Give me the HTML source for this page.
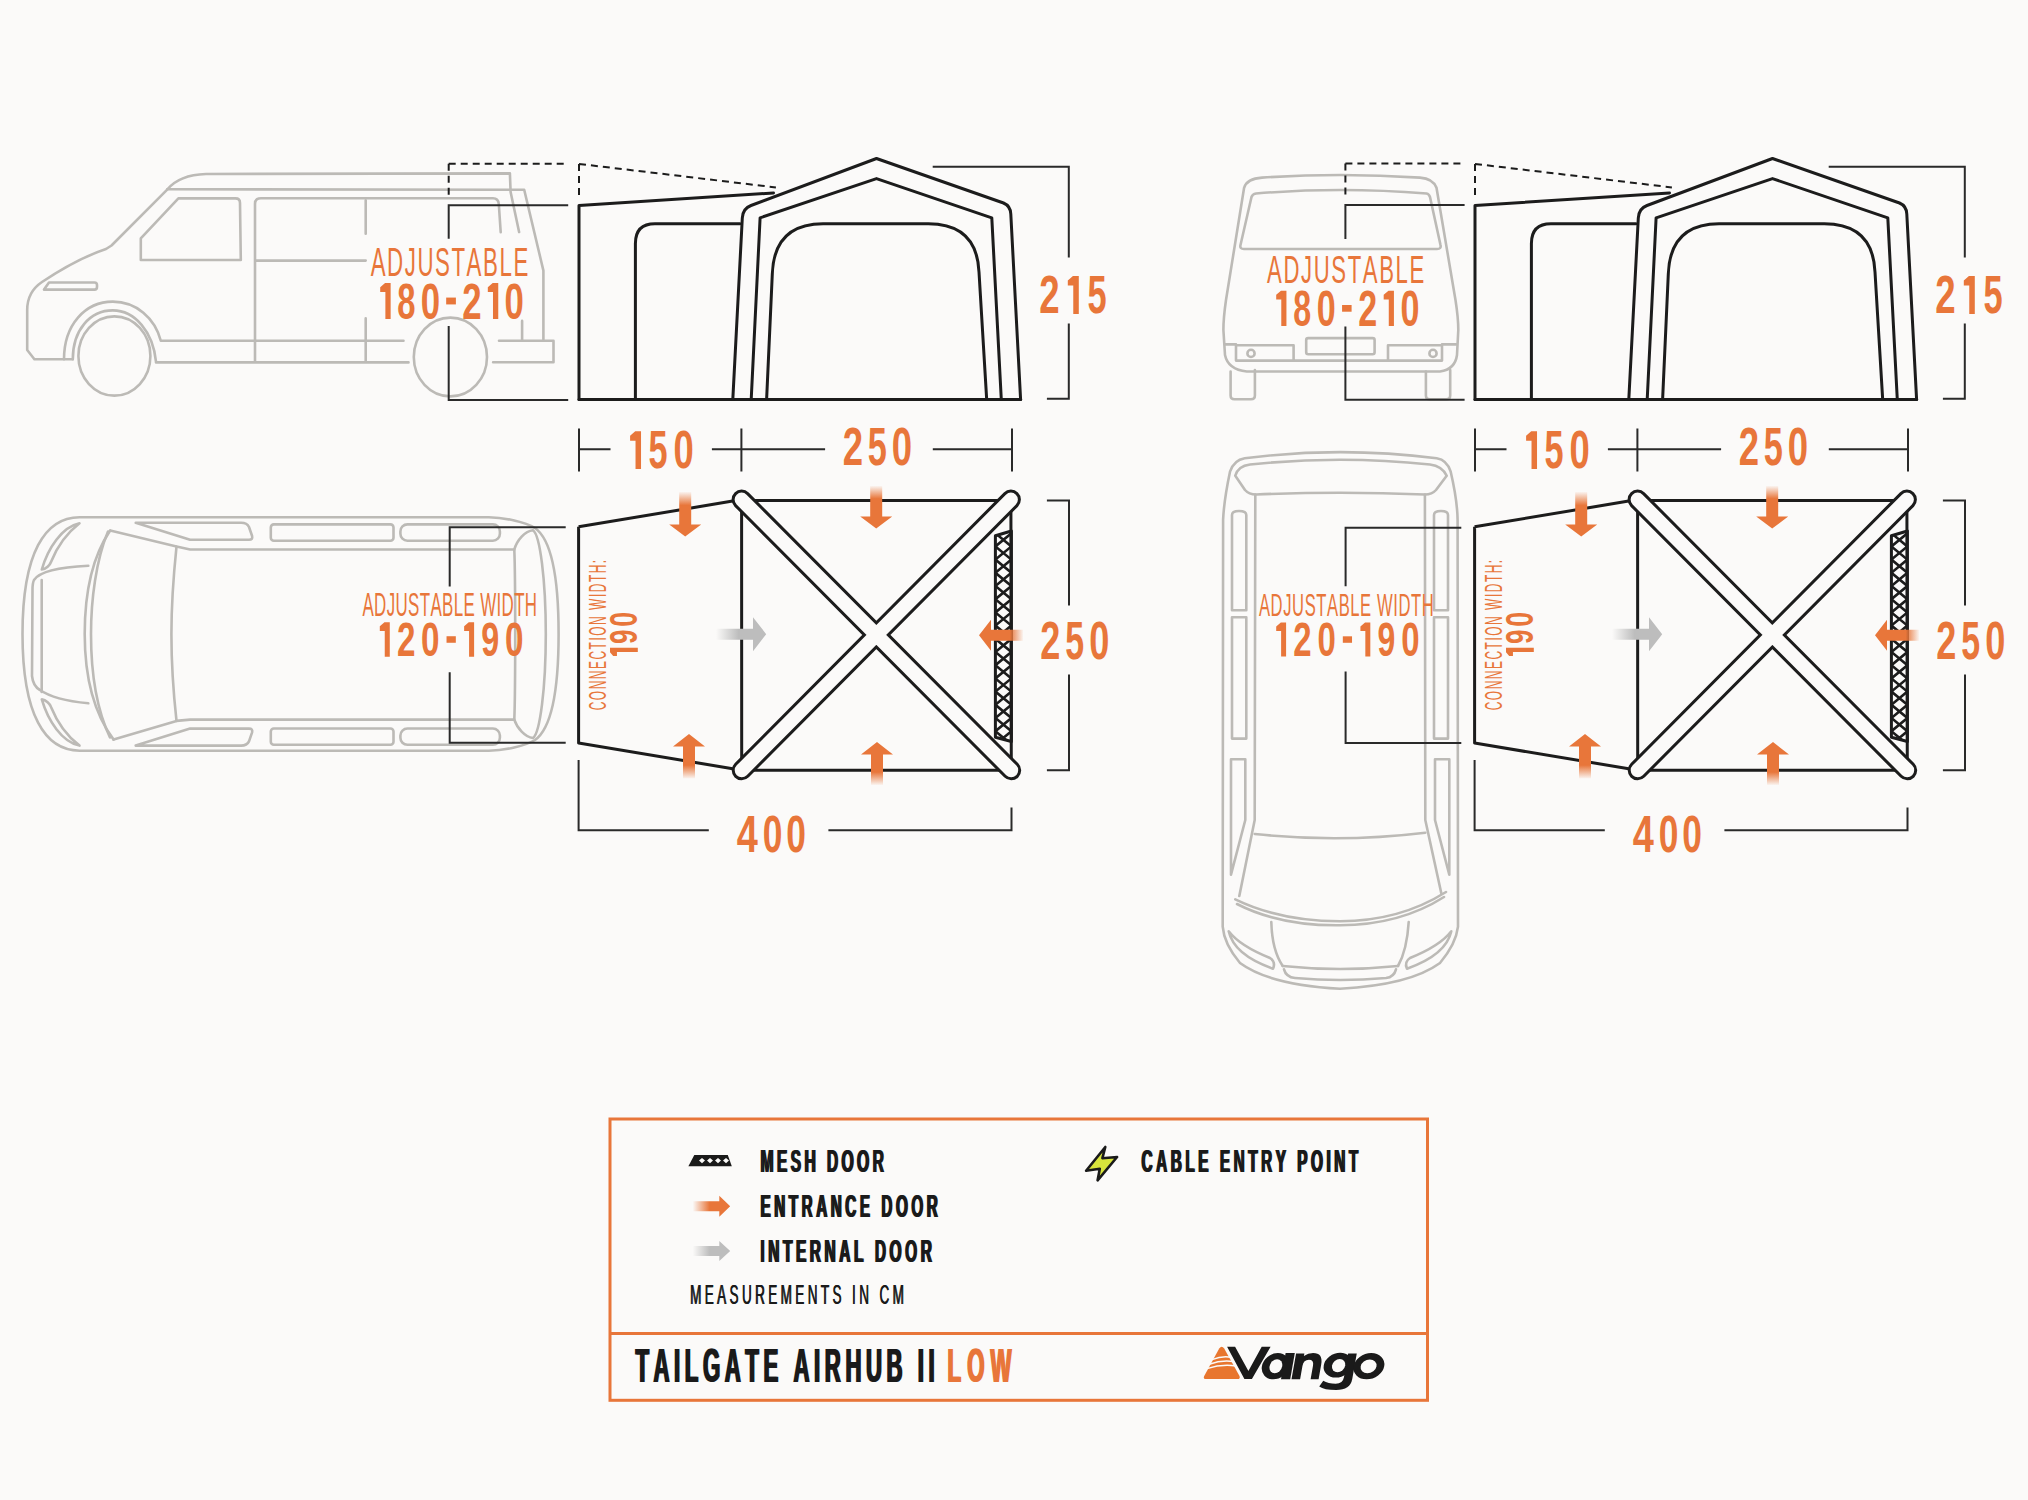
<!DOCTYPE html>
<html><head><meta charset="utf-8"><title>Tailgate AirHub II Low</title>
<style>html,body{margin:0;padding:0;background:#fbfaf9;overflow:hidden}svg{display:block}text{font-kerning:none;white-space:pre}</style>
</head><body>
<svg width="2028" height="1500" viewBox="0 0 2028 1500">
<defs>
<linearGradient id="gOd" x1="0" y1="0" x2="0" y2="1"><stop offset="0" stop-color="#e8763a" stop-opacity="0.05"/><stop offset="0.3" stop-color="#e8763a"/><stop offset="1" stop-color="#e8763a"/></linearGradient>
<linearGradient id="gOu" x1="0" y1="1" x2="0" y2="0"><stop offset="0" stop-color="#e8763a" stop-opacity="0.05"/><stop offset="0.3" stop-color="#e8763a"/><stop offset="1" stop-color="#e8763a"/></linearGradient>
<linearGradient id="gOl" x1="1" y1="0" x2="0" y2="0"><stop offset="0" stop-color="#e8763a" stop-opacity="0.05"/><stop offset="0.3" stop-color="#e8763a"/><stop offset="1" stop-color="#e8763a"/></linearGradient>
<linearGradient id="gOr" x1="0" y1="0" x2="1" y2="0"><stop offset="0" stop-color="#e8763a" stop-opacity="0"/><stop offset="0.45" stop-color="#e8763a"/><stop offset="1" stop-color="#e8763a"/></linearGradient>
<linearGradient id="gGr" x1="0" y1="0" x2="1" y2="0"><stop offset="0" stop-color="#bdbdbd" stop-opacity="0"/><stop offset="0.45" stop-color="#bdbdbd"/><stop offset="1" stop-color="#bdbdbd"/></linearGradient>
<g id="tentSide" fill="none" stroke="#1c1c1c" stroke-width="3" stroke-linejoin="round" stroke-linecap="round">
<path d="M579,399.6 L579,205.5 L773.5,192.9"/>
<path d="M579,399.6 L1020.6,399.6"/>
<path d="M732.8,399.6 L742.3,218 Q742.8,208.5 751,205.5 L876.5,158.5 L1003.5,203 Q1010.5,206 1010.8,214 L1020.6,399.6"/>
<path d="M751.2,399.6 L760.1,217.8 L876.5,178.6 L991.8,217.8 L1001.3,399.6"/>
<path d="M766.6,399.6 L772.3,274 Q774,224 823,223.8 L928.3,223.8 Q977,224 979,272 L986.7,399.6"/>
<path d="M635.4,399.6 L635.4,243.5 Q635.4,223.8 655,223.8 L740,223.8"/>
</g>
<g id="tentSideDim">
<path d="M579,163.9 L775.9,187.4 M579,163.9 L579,198.9" fill="none" stroke="#1c1c1c" stroke-width="2" stroke-dasharray="7,5"/>
<path d="M932.7,166.8 L1068.8,166.8 L1068.8,257.4 M1068.8,323.6 L1068.8,398.8 L1046.9,398.8" fill="none" stroke="#2a2a2a" stroke-width="2"/>
<path d="M579,428.6 L579,471.4 M741.4,428.6 L741.4,471.4 M1012,428.6 L1012,471.4 M579,449.3 L610.5,449.3 M711.9,449.3 L825.1,449.3 M932.8,449.3 L1012,449.3" fill="none" stroke="#2a2a2a" stroke-width="2"/>
</g>
<clipPath id="meshClip"><path d="M995.4,535.8 L1011.4,531.0 L1011.4,741.5 L995.4,737.2 Z"/></clipPath><g id="tentTop">
<path d="M578.6,526.8 L741.6,499.6 M578.6,526.8 L578.6,743.1 L741.7,770.2" fill="none" stroke="#1c1c1c" stroke-width="3" stroke-linejoin="round"/>
<path d="M741.6,500.4 L1010.9,500.4 L1011.3,770.2 L741.7,770.2 Z" fill="none" stroke="#1c1c1c" stroke-width="3" stroke-linejoin="round"/>
<g clip-path="url(#meshClip)"><path d="M995.4,520.0 L1011.4,533.2 M1011.4,520.0 L995.4,533.2 M995.4,533.2 L1011.4,546.4 M1011.4,533.2 L995.4,546.4 M995.4,546.4 L1011.4,559.6 M1011.4,546.4 L995.4,559.6 M995.4,559.6 L1011.4,572.8 M1011.4,559.6 L995.4,572.8 M995.4,572.8 L1011.4,586.0 M1011.4,572.8 L995.4,586.0 M995.4,586.0 L1011.4,599.2 M1011.4,586.0 L995.4,599.2 M995.4,599.2 L1011.4,612.4 M1011.4,599.2 L995.4,612.4 M995.4,612.4 L1011.4,625.6 M1011.4,612.4 L995.4,625.6 M995.4,625.6 L1011.4,638.8 M1011.4,625.6 L995.4,638.8 M995.4,638.8 L1011.4,652.0 M1011.4,638.8 L995.4,652.0 M995.4,652.0 L1011.4,665.2 M1011.4,652.0 L995.4,665.2 M995.4,665.2 L1011.4,678.4 M1011.4,665.2 L995.4,678.4 M995.4,678.4 L1011.4,691.6 M1011.4,678.4 L995.4,691.6 M995.4,691.6 L1011.4,704.8 M1011.4,691.6 L995.4,704.8 M995.4,704.8 L1011.4,718.0 M1011.4,704.8 L995.4,718.0 M995.4,718.0 L1011.4,731.2 M1011.4,718.0 L995.4,731.2 M995.4,731.2 L1011.4,744.4 M1011.4,731.2 L995.4,744.4 M995.4,744.4 L1011.4,757.6 M1011.4,744.4 L995.4,757.6 M995.4,757.6 L1011.4,770.8 M1011.4,757.6 L995.4,770.8" fill="none" stroke="#1c1c1c" stroke-width="2.6"/></g>
<path d="M995.4,535.8 L1011.4,531.0 L1011.4,741.5 L995.4,737.2 Z" fill="none" stroke="#1c1c1c" stroke-width="3" stroke-linejoin="round"/>
<path d="M741.6,499.6 L1011.2,770.3 M1010.9,499.6 L741.7,770.3" fill="none" stroke="#1c1c1c" stroke-width="20" stroke-linecap="round"/>
<path d="M741.6,499.6 L1011.2,770.3 M1010.9,499.6 L741.7,770.3" fill="none" stroke="#fbfaf9" stroke-width="14" stroke-linecap="round"/>
<path d="M679.2,492 L679.2,524.4 L669.2,524.4 L685.2,536.4 L701.2,524.4 L691.2,524.4 L691.2,492 Z" fill="url(#gOd)"/>
<path d="M870.2,486 L870.2,516.5 L860.2,516.5 L876.2,528.5 L892.2,516.5 L882.2,516.5 L882.2,486 Z" fill="url(#gOd)"/>
<path d="M683.0,778.5 L683.0,746.5 L673.0,746.5 L689.0,734.0 L705.0,746.5 L695.0,746.5 L695.0,778.5 Z" fill="url(#gOu)"/>
<path d="M871.0,785 L871.0,754.5 L861.0,754.5 L877.0,742.0 L893.0,754.5 L883.0,754.5 L883.0,785 Z" fill="url(#gOu)"/>
<path d="M1023,629.7 L991,629.7 L991,619.7 L979,635.2 L991,650.7 L991,640.7 L1023,640.7 Z" fill="url(#gOl)"/>
<path d="M716,628.7 L753,628.7 L753,617.2 L766.2,634.2 L753,651.2 L753,639.7 L716,639.7 Z" fill="url(#gGr)"/>
</g>
<g id="tentTopDim" fill="none" stroke="#2a2a2a" stroke-width="2">
<path d="M1046.9,500.4 L1069,500.4 L1069,605.4 M1069,674.4 L1069,770.2 L1046.9,770.2"/>
<path d="M578.6,760 L578.6,830.3 L708.8,830.3 M828.4,830.3 L1011.5,830.3 L1011.5,807.5"/>
</g>
</defs>
<rect x="0" y="0" width="2028" height="1500" fill="#fbfaf9"/>
<g fill="none" stroke="#bcbab6" stroke-width="2.6" stroke-linejoin="round" stroke-linecap="round">
<path d="M72.8,359.2 L64,359.2 C64,325 85,301.6 112.8,301.6 C136,301.6 155,318 160.8,340.8 L403.5,340.8"/>
<path d="M72.8,359.2 C72.8,330 90,310.4 112.8,310.4 C135,310.4 153,332 156,361.6 L156,362.4 L408.5,362.4"/>
<path d="M64,359.2 L34.4,359.2 L27.2,350 L27.2,310 C27.2,296 33,288 42,282 C60,270 85,256 106,249 L111.5,245.5 L167.2,189.6 C175,180 188,174.5 206,174 L509.9,173.4 L510.6,192 L519.1,232.1"/>
<path d="M167.2,189.3 L524.2,189.8 L543.4,270.6 L543.4,339.4"/>
<path d="M255,361.6 L255,204 Q255,198.3 261,198.3 L493,198.3 Q498.3,198.3 498.8,204 L500.7,232.1"/>
<path d="M255.9,260.6 L365.7,260.6 M365.7,200.2 L365.7,233.8 M365.7,318.4 L365.7,361.2 M522.1,320.9 L522.1,340.6"/>
<path d="M499,340.7 L553.5,340.7 L553.5,362.3 L493.1,362.3"/>
<path d="M140.8,238.4 L178.4,198.4 L235.5,198.4 Q240,198.4 240,203 L240.8,260 L140.8,260 Z"/>
<path d="M44,289.6 L94.5,289.6 Q97,289.6 97,287 L97,285 Q97,282.5 94.5,282.5 L49,282.5 Z"/>
<ellipse cx="114.4" cy="356" rx="36" ry="39.6"/>
<ellipse cx="450.4" cy="357" rx="36.6" ry="39.4"/>
</g>
<g fill="none" stroke="#bcbab6" stroke-width="2.6" stroke-linejoin="round" stroke-linecap="round">
<path d="M79.6,517.2 L488.8,517.2 C505,517.5 525,522 535,528 C552,540 558.6,580 558.6,634 C558.6,690 552,728 535,740 C525,746 505,750.5 488.8,750.7 L79.6,750.7 C45,750.7 22.5,715 22.5,634 C22.5,553 45,517.2 79.6,517.2 Z"/>
<path d="M88.3,565.8 C62,567 40,571 34,580 Q32.5,583 32.5,590 L32,676 Q33,686 40,690 C50,697 65,701 88.3,703.3"/>
<path d="M41.7,580 L41.7,692"/>
<path d="M79.5,523.3 C62,527 48,548 41.8,569.5 C46,569 50,565 51,562 C57,547 67,533 79.5,523.3 Z"/>
<path d="M79.5,745.6 C62,741.9 48,720.9 41.8,699.4 C46,699.9 50,703.9 51,706.9 C57,721.9 67,735.9 79.5,745.6 Z"/>
<path d="M110.2,530.5 C90,560 84.7,600 84.7,634 C84.7,668 90,708 113.6,739.6"/>
<path d="M108,531.5 C96,560 91,600 91,634 C91,668 96,708 110,737.5"/>
<path d="M110.2,530.5 L176.5,546.6 L190.1,549.5 L514.3,549.5"/>
<path d="M113.6,739.6 L176.5,720.9 L190.1,719.6 L514.3,719.6"/>
<path d="M176.5,546.6 C172,590 171.4,610 171.4,634 C171.4,658 172,680 176.5,720.9"/>
<path d="M135.7,522.8 L241.1,522.8 Q247,522.8 249,527 L252.1,536 Q253,539.8 249,539.8 L190.1,539.8 Z"/>
<path d="M135.7,745.6 L241.1,745.6 Q247,745.6 249,741.4 L252.1,732.4 Q253,728.6 249,728.6 L190.1,728.6 Z"/>
<rect x="270.8" y="524.4" width="122.7" height="16.3" rx="3"/>
<rect x="400.4" y="524.4" width="99.5" height="16.3" rx="7"/>
<rect x="270.8" y="728.5" width="122.7" height="16.3" rx="3"/>
<rect x="400.4" y="728.5" width="99.5" height="16.3" rx="7"/>
<path d="M514.3,549.5 C517,540 525,531 533,530.2 C540,535 545.8,580 545.8,634 C545.8,688 540,733 533,738 C525,737 517,728 514.3,719.6 C515.5,690 515.5,578 514.3,549.5 Z"/>
</g>
<g fill="none" stroke="#bcbab6" stroke-width="2.6" stroke-linejoin="round" stroke-linecap="round">
<path d="M1244.1,187.8 Q1247,178.5 1262,177.6 Q1340,172.5 1420,177.6 Q1433,178.5 1436.5,187.8 L1455.5,300 Q1458.3,318 1458.3,330 L1457,355 Q1455,369.5 1440,371.5 L1246.8,371.5 Q1228,369.5 1225,355 L1223.4,330 Q1223.4,318 1226,300 Z"/>
<path d="M1256,193.5 Q1340,186.5 1426.6,193.5 Q1429,194 1430,197 L1440.5,245 Q1441.5,249 1437,249 L1244,249 Q1239.5,249 1240.5,245 L1251.5,197 Q1252.5,194 1256,193.5 Z"/>
<path d="M1225,344.4 L1236,344.4 L1236,360.6 M1236,345.3 L1293.6,345.3 L1293.6,360.6 M1388,360.6 L1388,345.3 L1442,345.3 L1442,360.6 M1442,344.4 L1456,344.4 M1236,360.6 L1442,360.6"/>
<circle cx="1251" cy="353.4" r="3.6"/>
<circle cx="1433" cy="353.4" r="3.6"/>
<rect x="1306.2" y="338.1" width="68.4" height="16.2" rx="2"/>
<path d="M1230.6,371.5 L1230.6,395.5 Q1230.6,399.3 1234.5,399.3 L1251,399.3 Q1254.9,399.3 1254.9,395.5 L1254.9,370"/>
<path d="M1425.9,371.5 L1425.9,395.5 Q1425.9,399.3 1429.8,399.3 L1446.3,399.3 Q1450.2,399.3 1450.2,395.5 L1450.2,370"/>
</g>
<g fill="none" stroke="#bcbab6" stroke-width="2.6" stroke-linejoin="round" stroke-linecap="round">
<path d="M1230,471.7 Q1234,460 1244.7,458.3 Q1340,446 1436.7,458.3 Q1447,460 1450.7,471.7 Q1457.3,500 1457.6,519.7 L1458,926.7 Q1456,944 1440,963 Q1410,985 1340,988.7 Q1270,985 1240,963 Q1224,944 1222.7,926.7 L1223.1,519.7 Q1224,500 1230,471.7 Z"/>
<path d="M1235.3,475.7 Q1238,466 1250,464.5 Q1340,455 1430,464.5 Q1442,466 1446.7,475.7 L1436,490 Q1432,494.5 1425,494.5 Q1340,491 1256,494.5 Q1249,494.5 1245,490 Z"/>
<path d="M1255.3,494.5 L1254.7,820 L1239.3,896 M1424.9,494.5 L1425.3,820 L1441.3,893.3"/>
<path d="M1254.7,834 Q1340,843 1425.3,832.7"/>
<path d="M1235.3,899.3 Q1280,921 1340,921.3 Q1400,921 1446,892 M1237,904 Q1280,926 1340,925.3 Q1400,925 1444,897"/>
<path d="M1271.3,922 Q1272,950 1282.7,966 M1408.7,922 Q1407,950 1398,966"/>
<path d="M1282.7,966 Q1340,972 1398,966 M1284,969.3 Q1286,977 1295,978 Q1340,982 1386,978 Q1394,977 1396,969.3"/>
<path d="M1228.7,931.3 Q1234,955 1273,968.7 Q1276,962 1270,958 Q1240,946 1228.7,931.3 Z"/>
<path d="M1451.3,931.3 Q1446,955 1407,968.7 Q1404,962 1410,958 Q1440,946 1451.3,931.3 Z"/>
<path d="M1232,515 Q1232,511 1239,511 Q1246.3,511 1246.3,515 L1246.3,610.3 L1232,610.3 Z"/>
<path d="M1232,617.3 L1246.3,617.3 L1246.3,738.6 L1232,738.6 Z"/>
<path d="M1231,759.2 L1245.3,759.2 L1245.3,820 L1231,874.7 Z"/>
<path d="M1434,515 Q1434,511 1441,511 Q1448,511 1448,515 L1448,610.3 L1434,610.3 Z"/>
<path d="M1434,617.3 L1448,617.3 L1448,738.6 L1434,738.6 Z"/>
<path d="M1435,759.2 L1449.3,759.2 L1449.3,874.7 L1435,820 Z"/>
</g>
<g fill="none" stroke="#2a2a2a" stroke-width="2">
<path d="M568.2,205.3 L448.7,205.3 L448.7,238.8 M448.7,326 L448.7,400 L568.2,400"/>
<path d="M565.7,527.3 L449.7,527.3 L449.7,586.5 M449.7,672.3 L449.7,742.7 L565.7,742.7"/>
<path d="M1464.6,205 L1345.4,205 L1345.4,239.1 M1345.4,326.4 L1345.4,399.8 L1464.6,399.8"/>
<path d="M1461.3,527.7 L1345.6,527.7 L1345.6,586.3 M1345.6,671.4 L1345.6,743.1 L1461.3,743.1"/>
</g>
<g fill="none" stroke="#1c1c1c" stroke-width="2" stroke-dasharray="7,5">
<path d="M448.7,163.7 L568.6,163.7 M448.7,163.7 L448.7,198.6"/>
<path d="M1345.4,163.5 L1464.6,163.5 M1345.4,163.5 L1345.4,198.6"/>
</g>
<g transform="translate(0,0)"><use href="#tentSide"/><use href="#tentSideDim"/><use href="#tentTop"/><use href="#tentTopDim"/></g>
<g transform="translate(896,0)"><use href="#tentSide"/><use href="#tentSideDim"/><use href="#tentTop"/><use href="#tentTopDim"/></g>
<text transform="translate(1039.23,313.48) scale(0.6838,1)" font-family='"Liberation Sans", sans-serif' font-weight="bold" font-size="53.53" fill="#e8763a">2</text><path d="M1078.79,276.10 L1072.96,276.10 L1067.80,280.46 L1067.80,285.58 L1073.26,285.58 L1073.26,314.00 L1078.79,314.00 Z" fill="#e8763a"/><text transform="translate(1087.41,313.48) scale(0.6432,1)" font-family='"Liberation Sans", sans-serif' font-weight="bold" font-size="53.53" fill="#e8763a">5</text>
<path d="M641.03,431.30 L635.23,431.30 L630.10,435.64 L630.10,440.73 L635.53,440.73 L635.53,469.00 L641.03,469.00 Z" fill="#e8763a"/><text transform="translate(648.47,468.48) scale(0.6432,1)" font-family='"Liberation Sans", sans-serif' font-weight="bold" font-size="53.25" fill="#e8763a">5</text><text transform="translate(673.62,468.48) scale(0.6848,1)" font-family='"Liberation Sans", sans-serif' font-weight="bold" font-size="53.25" fill="#e8763a">0</text>
<text transform="translate(842.83,465.18) scale(0.6838,1)" font-family='"Liberation Sans", sans-serif' font-weight="bold" font-size="53.39" fill="#e8763a">2</text><text transform="translate(867.80,465.18) scale(0.6432,1)" font-family='"Liberation Sans", sans-serif' font-weight="bold" font-size="53.39" fill="#e8763a">5</text><text transform="translate(891.67,465.18) scale(0.6848,1)" font-family='"Liberation Sans", sans-serif' font-weight="bold" font-size="53.39" fill="#e8763a">0</text>
<text transform="translate(1040.35,658.98) scale(0.6838,1)" font-family='"Liberation Sans", sans-serif' font-weight="bold" font-size="52.82" fill="#e8763a">2</text><text transform="translate(1065.35,658.98) scale(0.6432,1)" font-family='"Liberation Sans", sans-serif' font-weight="bold" font-size="52.82" fill="#e8763a">5</text><text transform="translate(1089.27,658.98) scale(0.6848,1)" font-family='"Liberation Sans", sans-serif' font-weight="bold" font-size="52.82" fill="#e8763a">0</text>
<text transform="translate(736.73,852.10) scale(0.7336,1)" font-family='"Liberation Sans", sans-serif' font-weight="bold" font-size="51.69" fill="#e8763a">4</text><text transform="translate(762.87,852.10) scale(0.6848,1)" font-family='"Liberation Sans", sans-serif' font-weight="bold" font-size="51.69" fill="#e8763a">0</text><text transform="translate(786.36,852.10) scale(0.6848,1)" font-family='"Liberation Sans", sans-serif' font-weight="bold" font-size="51.69" fill="#e8763a">0</text>
<g transform="rotate(-90)"><text transform="translate(-710.31,606.00) scale(0.5,1)" font-family='"Liberation Sans", sans-serif' font-weight="normal" font-size="23.84" letter-spacing="3.10" fill="#e8763a" >CONNECTION WIDTH:</text><path d="M-647.84,610.00 L-652.20,610.00 L-655.90,613.20 L-655.90,616.95 L-651.90,616.95 L-651.90,637.80 L-647.84,637.80 Z" fill="#e8763a"/><text transform="translate(-643.99,637.42) scale(0.6651,1)" font-family='"Liberation Sans", sans-serif' font-weight="bold" font-size="39.27" fill="#e8763a">9</text><text transform="translate(-626.75,637.42) scale(0.6848,1)" font-family='"Liberation Sans", sans-serif' font-weight="bold" font-size="39.27" fill="#e8763a">0</text></g>
<text transform="translate(1935.23,313.48) scale(0.6838,1)" font-family='"Liberation Sans", sans-serif' font-weight="bold" font-size="53.53" fill="#e8763a">2</text><path d="M1974.79,276.10 L1968.96,276.10 L1963.80,280.46 L1963.80,285.58 L1969.26,285.58 L1969.26,314.00 L1974.79,314.00 Z" fill="#e8763a"/><text transform="translate(1983.41,313.48) scale(0.6432,1)" font-family='"Liberation Sans", sans-serif' font-weight="bold" font-size="53.53" fill="#e8763a">5</text>
<path d="M1537.03,431.30 L1531.23,431.30 L1526.10,435.64 L1526.10,440.73 L1531.53,440.73 L1531.53,469.00 L1537.03,469.00 Z" fill="#e8763a"/><text transform="translate(1544.47,468.48) scale(0.6432,1)" font-family='"Liberation Sans", sans-serif' font-weight="bold" font-size="53.25" fill="#e8763a">5</text><text transform="translate(1569.62,468.48) scale(0.6848,1)" font-family='"Liberation Sans", sans-serif' font-weight="bold" font-size="53.25" fill="#e8763a">0</text>
<text transform="translate(1738.83,465.18) scale(0.6838,1)" font-family='"Liberation Sans", sans-serif' font-weight="bold" font-size="53.39" fill="#e8763a">2</text><text transform="translate(1763.80,465.18) scale(0.6432,1)" font-family='"Liberation Sans", sans-serif' font-weight="bold" font-size="53.39" fill="#e8763a">5</text><text transform="translate(1787.67,465.18) scale(0.6848,1)" font-family='"Liberation Sans", sans-serif' font-weight="bold" font-size="53.39" fill="#e8763a">0</text>
<text transform="translate(1936.35,658.98) scale(0.6838,1)" font-family='"Liberation Sans", sans-serif' font-weight="bold" font-size="52.82" fill="#e8763a">2</text><text transform="translate(1961.35,658.98) scale(0.6432,1)" font-family='"Liberation Sans", sans-serif' font-weight="bold" font-size="52.82" fill="#e8763a">5</text><text transform="translate(1985.27,658.98) scale(0.6848,1)" font-family='"Liberation Sans", sans-serif' font-weight="bold" font-size="52.82" fill="#e8763a">0</text>
<text transform="translate(1632.73,852.10) scale(0.7336,1)" font-family='"Liberation Sans", sans-serif' font-weight="bold" font-size="51.69" fill="#e8763a">4</text><text transform="translate(1658.87,852.10) scale(0.6848,1)" font-family='"Liberation Sans", sans-serif' font-weight="bold" font-size="51.69" fill="#e8763a">0</text><text transform="translate(1682.36,852.10) scale(0.6848,1)" font-family='"Liberation Sans", sans-serif' font-weight="bold" font-size="51.69" fill="#e8763a">0</text>
<g transform="rotate(-90)"><text transform="translate(-710.31,1502.00) scale(0.5,1)" font-family='"Liberation Sans", sans-serif' font-weight="normal" font-size="23.84" letter-spacing="3.10" fill="#e8763a" >CONNECTION WIDTH:</text><path d="M-647.84,1506.00 L-652.20,1506.00 L-655.90,1509.20 L-655.90,1512.95 L-651.90,1512.95 L-651.90,1533.80 L-647.84,1533.80 Z" fill="#e8763a"/><text transform="translate(-643.99,1533.42) scale(0.6651,1)" font-family='"Liberation Sans", sans-serif' font-weight="bold" font-size="39.27" fill="#e8763a">9</text><text transform="translate(-626.75,1533.42) scale(0.6848,1)" font-family='"Liberation Sans", sans-serif' font-weight="bold" font-size="39.27" fill="#e8763a">0</text></g>
<text transform="translate(370.66,275.90) scale(0.557,1)" font-family='"Liberation Sans", sans-serif' font-weight="normal" font-size="39.97" letter-spacing="2.81" fill="#e8763a" >ADJUSTABLE</text>
<path d="M390.64,283.00 L385.08,283.00 L380.20,287.14 L380.20,292.00 L385.38,292.00 L385.38,319.00 L390.64,319.00 Z" fill="#e8763a"/><text transform="translate(397.19,318.50) scale(0.6454,1)" font-family='"Liberation Sans", sans-serif' font-weight="bold" font-size="50.85" fill="#e8763a">8</text><text transform="translate(420.64,318.50) scale(0.6848,1)" font-family='"Liberation Sans", sans-serif' font-weight="bold" font-size="50.85" fill="#e8763a">0</text><rect x="446.17" y="297.58" width="9.72" height="6.84" fill="#e8763a"/><text transform="translate(462.27,318.50) scale(0.6838,1)" font-family='"Liberation Sans", sans-serif' font-weight="bold" font-size="50.85" fill="#e8763a">2</text><path d="M498.25,283.00 L492.69,283.00 L487.81,287.14 L487.81,292.00 L492.99,292.00 L492.99,319.00 L498.25,319.00 Z" fill="#e8763a"/><text transform="translate(504.46,318.50) scale(0.6848,1)" font-family='"Liberation Sans", sans-serif' font-weight="bold" font-size="50.85" fill="#e8763a">0</text>
<text transform="translate(1267.06,283.20) scale(0.557,1)" font-family='"Liberation Sans", sans-serif' font-weight="normal" font-size="39.68" letter-spacing="2.94" fill="#e8763a" >ADJUSTABLE</text>
<path d="M1286.44,290.70 L1280.98,290.70 L1276.20,294.76 L1276.20,299.52 L1281.28,299.52 L1281.28,326.00 L1286.44,326.00 Z" fill="#e8763a"/><text transform="translate(1293.25,325.51) scale(0.6454,1)" font-family='"Liberation Sans", sans-serif' font-weight="bold" font-size="49.86" fill="#e8763a">8</text><text transform="translate(1316.64,325.51) scale(0.6848,1)" font-family='"Liberation Sans", sans-serif' font-weight="bold" font-size="49.86" fill="#e8763a">0</text><rect x="1342.07" y="305.00" width="9.53" height="6.71" fill="#e8763a"/><text transform="translate(1358.26,325.51) scale(0.6838,1)" font-family='"Liberation Sans", sans-serif' font-weight="bold" font-size="49.86" fill="#e8763a">2</text><path d="M1393.93,290.70 L1388.47,290.70 L1383.69,294.76 L1383.69,299.52 L1388.77,299.52 L1388.77,326.00 L1393.93,326.00 Z" fill="#e8763a"/><text transform="translate(1400.41,325.51) scale(0.6848,1)" font-family='"Liberation Sans", sans-serif' font-weight="bold" font-size="49.86" fill="#e8763a">0</text>
<text transform="translate(362.47,615.70) scale(0.517,1)" font-family='"Liberation Sans", sans-serif' font-weight="normal" font-size="32.70" letter-spacing="0.72" fill="#e8763a" >ADJUSTABLE WIDTH</text>
<path d="M389.78,622.30 L384.45,622.30 L379.80,626.26 L379.80,630.90 L384.75,630.90 L384.75,656.70 L389.78,656.70 Z" fill="#e8763a"/><text transform="translate(396.93,656.23) scale(0.6838,1)" font-family='"Liberation Sans", sans-serif' font-weight="bold" font-size="48.59" fill="#e8763a">2</text><text transform="translate(421.08,656.23) scale(0.6848,1)" font-family='"Liberation Sans", sans-serif' font-weight="bold" font-size="48.59" fill="#e8763a">0</text><rect x="446.53" y="636.23" width="9.29" height="6.54" fill="#e8763a"/><path d="M474.10,622.30 L468.78,622.30 L464.13,626.26 L464.13,630.90 L469.08,630.90 L469.08,656.70 L474.10,656.70 Z" fill="#e8763a"/><text transform="translate(481.29,656.23) scale(0.6651,1)" font-family='"Liberation Sans", sans-serif' font-weight="bold" font-size="48.59" fill="#e8763a">9</text><text transform="translate(505.06,656.23) scale(0.6848,1)" font-family='"Liberation Sans", sans-serif' font-weight="bold" font-size="48.59" fill="#e8763a">0</text>
<text transform="translate(1258.97,615.60) scale(0.517,1)" font-family='"Liberation Sans", sans-serif' font-weight="normal" font-size="32.12" letter-spacing="1.13" fill="#e8763a" >ADJUSTABLE WIDTH</text>
<path d="M1286.09,622.50 L1280.81,622.50 L1276.20,626.42 L1276.20,631.02 L1281.11,631.02 L1281.11,656.60 L1286.09,656.60 Z" fill="#e8763a"/><text transform="translate(1293.34,656.13) scale(0.6838,1)" font-family='"Liberation Sans", sans-serif' font-weight="bold" font-size="48.16" fill="#e8763a">2</text><text transform="translate(1317.43,656.13) scale(0.6848,1)" font-family='"Liberation Sans", sans-serif' font-weight="bold" font-size="48.16" fill="#e8763a">0</text><rect x="1342.82" y="636.31" width="9.21" height="6.48" fill="#e8763a"/><path d="M1370.31,622.50 L1365.03,622.50 L1360.42,626.42 L1360.42,631.02 L1365.33,631.02 L1365.33,656.60 L1370.31,656.60 Z" fill="#e8763a"/><text transform="translate(1377.59,656.13) scale(0.6651,1)" font-family='"Liberation Sans", sans-serif' font-weight="bold" font-size="48.16" fill="#e8763a">9</text><text transform="translate(1401.31,656.13) scale(0.6848,1)" font-family='"Liberation Sans", sans-serif' font-weight="bold" font-size="48.16" fill="#e8763a">0</text>
<rect x="610" y="1119" width="817.5" height="281.3" fill="none" stroke="#e8763a" stroke-width="3"/>
<path d="M610,1333.5 L1427.5,1333.5" stroke="#e8763a" stroke-width="3"/>
<path d="M688.4,1166.2 L694.3,1155 L727.8,1155 L731.8,1166.2 Z" fill="#1a1a1a"/>
<path d="M699,1160.6 l3,-2.6 l3,2.6 l-3,2.6 Z M707,1160.6 l3,-2.6 l3,2.6 l-3,2.6 Z M715,1160.6 l3,-2.6 l3,2.6 l-3,2.6 Z M723,1160.6 l3,-2.6 l3,2.6 l-3,2.6 Z" fill="#fbfaf9"/>
<path d="M692.7,1201.3 L719.3,1201.3 L719.3,1195.8 L730.2,1206.3 L719.3,1216.8 L719.3,1211.3 L692.7,1211.3 Z" fill="url(#gOr)"/>
<path d="M692.7,1246 L719.3,1246 L719.3,1241 L730.2,1251 L719.3,1261 L719.3,1256 L692.7,1256 Z" fill="url(#gGr)"/>
<path d="M1105.3,1147 L1102.4,1158.2 L1117.1,1157 L1097.6,1180.3 L1099.8,1168.8 L1086.1,1170.7 Z" fill="#d8e43c" stroke="#1a1a1a" stroke-width="2.6" stroke-linejoin="round"/>
<text transform="translate(759.75,1172.40) scale(0.49,1)" font-family='"Liberation Sans", sans-serif' font-weight="bold" font-size="31.98" letter-spacing="6.85" fill="#1a1a1a" >MESH DOOR</text><text transform="translate(761.15,1172.40) scale(0.49,1)" font-family='"Liberation Sans", sans-serif' font-weight="bold" font-size="31.98" letter-spacing="6.85" fill="#1a1a1a" >MESH DOOR</text>
<text transform="translate(759.78,1216.60) scale(0.49,1)" font-family='"Liberation Sans", sans-serif' font-weight="bold" font-size="31.11" letter-spacing="7.26" fill="#1a1a1a" >ENTRANCE DOOR</text><text transform="translate(761.18,1216.60) scale(0.49,1)" font-family='"Liberation Sans", sans-serif' font-weight="bold" font-size="31.11" letter-spacing="7.26" fill="#1a1a1a" >ENTRANCE DOOR</text>
<text transform="translate(759.67,1261.90) scale(0.49,1)" font-family='"Liberation Sans", sans-serif' font-weight="bold" font-size="31.54" letter-spacing="7.27" fill="#1a1a1a" >INTERNAL DOOR</text><text transform="translate(761.07,1261.90) scale(0.49,1)" font-family='"Liberation Sans", sans-serif' font-weight="bold" font-size="31.54" letter-spacing="7.27" fill="#1a1a1a" >INTERNAL DOOR</text>
<text transform="translate(689.79,1303.60) scale(0.48,1)" font-family='"Liberation Sans", sans-serif' font-weight="normal" font-size="28.20" letter-spacing="7.04" fill="#1a1a1a" >MEASUREMENTS IN CM</text><text transform="translate(690.39,1303.60) scale(0.48,1)" font-family='"Liberation Sans", sans-serif' font-weight="normal" font-size="28.20" letter-spacing="7.04" fill="#1a1a1a" >MEASUREMENTS IN CM</text>
<text transform="translate(1140.87,1171.80) scale(0.49,1)" font-family='"Liberation Sans", sans-serif' font-weight="bold" font-size="31.25" letter-spacing="7.25" fill="#1a1a1a" >CABLE ENTRY POINT</text><text transform="translate(1142.27,1171.80) scale(0.49,1)" font-family='"Liberation Sans", sans-serif' font-weight="bold" font-size="31.25" letter-spacing="7.25" fill="#1a1a1a" >CABLE ENTRY POINT</text>
<text transform="translate(634.65,1381.90) scale(0.47,1)" font-family='"Liberation Sans", sans-serif' font-weight="bold" font-size="47.24" letter-spacing="9.69" fill="#1a1a1a" >TAILGATE AIRHUB II</text><text transform="translate(636.15,1381.90) scale(0.47,1)" font-family='"Liberation Sans", sans-serif' font-weight="bold" font-size="47.24" letter-spacing="9.69" fill="#1a1a1a" >TAILGATE AIRHUB II</text>
<text transform="translate(946.71,1381.90) scale(0.47,1)" font-family='"Liberation Sans", sans-serif' font-weight="bold" font-size="47.24" letter-spacing="13.00" fill="#e8763a" >LOW</text><text transform="translate(948.21,1381.90) scale(0.47,1)" font-family='"Liberation Sans", sans-serif' font-weight="bold" font-size="47.24" letter-spacing="13.00" fill="#e8763a" >LOW</text>
<path d="M1221.7,1346.7 Q1223,1346.7 1224.2,1348.6 L1239.5,1376 Q1240.6,1379.1 1237.5,1379.1 L1206,1379.1 Q1202.8,1379.1 1204.2,1376 L1219.2,1348.6 Q1220.4,1346.7 1221.7,1346.7 Z" fill="#e8762f"/>
<path d="M1212,1359.6 Q1222,1355.5 1231.2,1357.2 M1209.2,1364.2 Q1222,1359.5 1233.6,1361.5 M1206.8,1368.6 Q1222,1363.8 1236,1366" fill="none" stroke="#fbfaf9" stroke-width="1.5"/>
<path d="M1227.1,1346.7 L1235.1,1346.7 L1248.4,1371.1 L1261.7,1346.7 L1270.6,1346.7 L1251.9,1379.1 L1244.4,1379.1 Z" fill="#1a1a1a"/>
<g transform="translate(0,1379.3) skewX(-10) translate(0,-1379.3)">
<ellipse cx="1273.2" cy="1366.2" rx="13.6" ry="13.1" fill="#1a1a1a"/>
<ellipse cx="1273.6" cy="1366.3" rx="6.3" ry="7.0" fill="#fbfaf9"/>
<rect x="1281" y="1353.1" width="9.2" height="26.2" fill="#1a1a1a"/>
<path d="M1291.5,1379.3 L1291.5,1353.4 L1299.8,1353.4 L1299.8,1356 Q1303.5,1353.1 1308.5,1353.1 Q1318.6,1353.1 1318.6,1364.5 L1318.6,1379.3 L1310.6,1379.3 L1310.6,1365.5 Q1310.6,1359.8 1305.5,1359.8 Q1300.1,1359.8 1300.1,1366 L1300.1,1379.3 Z" fill="#1a1a1a"/>
<ellipse cx="1335.5" cy="1365.2" rx="14.2" ry="12.4" fill="#1a1a1a"/>
<ellipse cx="1336.2" cy="1365.6" rx="6.6" ry="6.6" fill="#fbfaf9"/>
<path d="M1343.6,1353.4 L1352.2,1353.4 L1352.2,1379 Q1352.2,1390 1338,1390 Q1326,1390 1320.5,1386.5 L1323.5,1380.8 Q1329,1383.8 1336.5,1383.8 Q1343.6,1383.8 1343.6,1377 Z" fill="#1a1a1a"/>
<ellipse cx="1366.6" cy="1366.2" rx="15.3" ry="13.1" fill="#1a1a1a"/>
<ellipse cx="1366.3" cy="1366.4" rx="7.9" ry="6.8" fill="#fbfaf9"/>
</g>

</svg>
</body></html>
